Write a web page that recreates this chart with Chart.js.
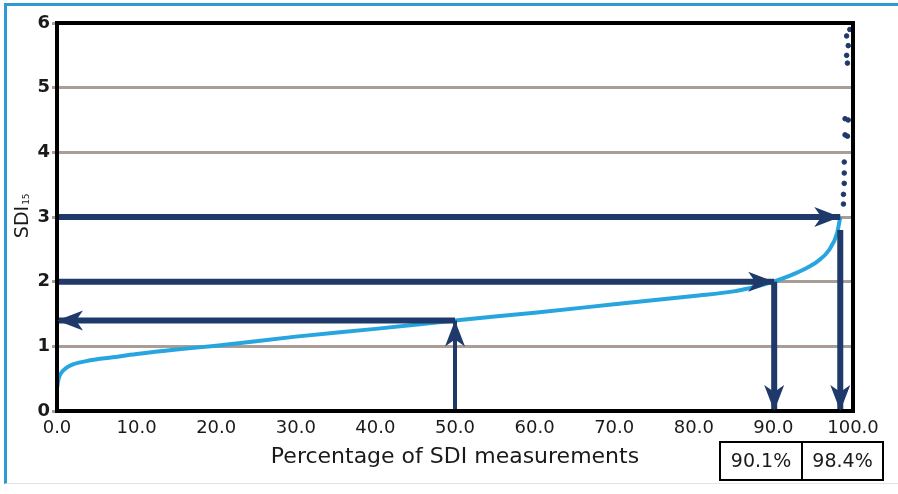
<!DOCTYPE html>
<html>
<head>
<meta charset="utf-8">
<script src="https://cdn.jsdelivr.net/npm/chart.js@4"></script>
<style>
  html, body { margin: 0; padding: 0; background: #fff; }
  #wrap { position: relative; width: 898px; height: 494px; }
  #frame { position: absolute; left: 4px; top: 3px; width: 894px; height: 481px;
           border-top: 3px solid #2d9ad6; border-left: 3px solid #2d9ad6; border-bottom: 1px solid #dde5ea; box-sizing: border-box; }
  canvas { position: absolute; left: 0; top: 0; }
</style>
</head>
<body>
<div id="wrap">
  <div id="frame"></div>
  <canvas id="sdiChart" width="898" height="494"></canvas>
</div>
<script>
// SDI15 cumulative distribution curve (percent of measurements vs SDI15)
const curveX = [0, 0.2, 0.6, 1.2, 2, 4, 7, 10, 15, 20, 30, 40, 50, 60, 70, 80, 85, 88, 90, 92, 94, 95.5, 97, 98, 98.4];
const curveY = [0.35, 0.5, 0.6, 0.67, 0.72, 0.78, 0.83, 0.88, 0.95, 1.01, 1.15, 1.27, 1.4, 1.52, 1.65, 1.78, 1.85, 1.93, 2.0, 2.09, 2.2, 2.31, 2.49, 2.75, 3.0];

// scattered high readings at the top end
const outlierX = [99.2, 99.4, 99.2, 99.3, 99.6, 99.0, 99.4, 99.0, 99.3, 98.9, 98.9, 98.9, 98.8, 98.8];
const outlierY = [5.8, 5.65, 5.5, 5.38, 5.9, 4.52, 4.5, 4.27, 4.25, 3.85, 3.68, 3.52, 3.35, 3.2];

// arrows: [x0, y0, x1, y1] with the head at the second point
const arrowLines = [
  [0, 3, 98.4, 3],
  [0, 2, 90.1, 2],
  [50, 1.4, 0, 1.4],
  [50, 0, 50, 1.4],
  [90.1, 2, 90.1, 0],
  [98.4, 2.8, 98.4, 0]
];
const arrowWidths = [6, 6, 6, 4, 6, 6];

const xTickLabels = ["0.0", "10.0", "20.0", "30.0", "40.0", "50.0", "60.0", "70.0", "80.0", "90.0", "100.0"];
const yTickLabels = ["0", "1", "2", "3", "4", "5", "6"];
const boxLabels = ["90.1%", "98.4%"];

const navy = "#1f3a6a";
const curveBlue = "#27a5df";
const gridGrey = "#a89e97";
const fontFam = "'DejaVu Sans', sans-serif";

const datasets = [];
datasets.push({
  type: "line",
  data: curveX.map((x, i) => ({ x: x, y: curveY[i] })),
  borderColor: curveBlue,
  borderWidth: 4,
  pointRadius: 0,
  cubicInterpolationMode: "monotone",
  order: 2
});
arrowLines.forEach((a, i) => {
  datasets.push({
    type: "line",
    arrow: true,
    data: [{ x: a[0], y: a[1] }, { x: a[2], y: a[3] }],
    borderColor: navy,
    borderWidth: arrowWidths[i],
    borderCapStyle: "butt",
    pointRadius: 0,
    order: 1
  });
});
datasets.push({
  type: "scatter",
  data: outlierX.map((x, i) => ({ x: x, y: outlierY[i] })),
  backgroundColor: navy,
  borderColor: navy,
  pointRadius: 2.3,
  order: 0
});

// black frame, arrow heads, y title and the percentage boxes
const decorations = {
  id: "decorations",
  afterDatasetsDraw(chart) {
    const c = chart.ctx;
    const area = chart.chartArea;
    c.save();
    c.strokeStyle = "#000";
    c.lineWidth = 4;
    c.strokeRect(area.left, area.top, area.right - area.left, area.bottom - area.top);

    // arrow heads at the end point of each arrow dataset
    chart.data.datasets.forEach((ds, i) => {
      if (!ds.arrow) return;
      const pts = chart.getDatasetMeta(i).data;
      const p0 = pts[0], p1 = pts[1];
      const ang = Math.atan2(p1.y - p0.y, p1.x - p0.x);
      const len = 26, half = 10;
      c.save();
      c.translate(p1.x, p1.y);
      c.rotate(ang);
      c.fillStyle = navy;
      c.beginPath();
      c.moveTo(0, 0);
      c.lineTo(-len, -half);
      c.lineTo(-len + 7, 0);
      c.lineTo(-len, half);
      c.closePath();
      c.fill();
      c.restore();
    });
    c.restore();
  },
  afterDraw(chart) {
    const c = chart.ctx;
    c.save();
    // y axis title SDI with subscript 15
    c.translate(28, 216);
    c.rotate(-Math.PI / 2);
    c.fillStyle = "#1a1a1a";
    c.textBaseline = "alphabetic";
    c.font = "19px " + fontFam;
    c.textAlign = "left";
    const w = c.measureText("SDI").width;
    const tw = w + 12;
    c.fillText("SDI", -tw / 2, 0);
    c.font = "9px " + fontFam;
    c.fillText("15", -tw / 2 + w + 1, 1);
    c.restore();

    // boxes under the x axis
    c.save();
    const boxX = [720, 802];
    const boxW = [82, 81];
    c.strokeStyle = "#000";
    c.lineWidth = 2;
    c.fillStyle = "#1a1a1a";
    c.font = "19px " + fontFam;
    c.textAlign = "center";
    c.textBaseline = "middle";
    boxLabels.forEach((t, i) => {
      c.strokeRect(boxX[i], 442, boxW[i], 38);
      c.fillText(t, boxX[i] + boxW[i] / 2, 462);
    });
    c.restore();
  }
};

new Chart(document.getElementById("sdiChart"), {
  data: { datasets: datasets },
  options: {
    responsive: false,
    animation: false,
    layout: { padding: { left: 8, right: 45, top: 23, bottom: 24 } },
    plugins: { legend: { display: false }, tooltip: { enabled: false } },
    scales: {
      x: {
        type: "linear",
        min: 0,
        max: 100,
        ticks: {
          stepSize: 10,
          padding: 7,
          color: "#1a1a1a",
          font: { family: fontFam, size: 18 },
          maxRotation: 0,
          callback: (v) => xTickLabels[Math.round(v / 10)]
        },
        grid: { display: false, drawTicks: false },
        border: { display: false },
        title: {
          display: true,
          text: "Percentage of SDI measurements",
          color: "#1a1a1a",
          font: { family: fontFam, size: 22 },
          padding: 0
        },
        afterFit: (s) => { s.height = 59; }
      },
      y: {
        type: "linear",
        min: 0,
        max: 6,
        ticks: {
          stepSize: 1,
          padding: 2,
          color: "#1a1a1a",
          font: { family: fontFam, size: 18, weight: "bold" },
          callback: (v) => yTickLabels[v]
        },
        grid: {
          color: (ctx) => (ctx.tick && ctx.tick.value > 0 && ctx.tick.value < 6 ? gridGrey : "rgba(0,0,0,0)"),
          lineWidth: 3,
          tickLength: 5,
          tickColor: gridGrey
        },
        border: { display: false },
        afterFit: (s) => { s.width = 49; }
      }
    }
  },
  plugins: [decorations]
});
</script>
</body>
</html>
